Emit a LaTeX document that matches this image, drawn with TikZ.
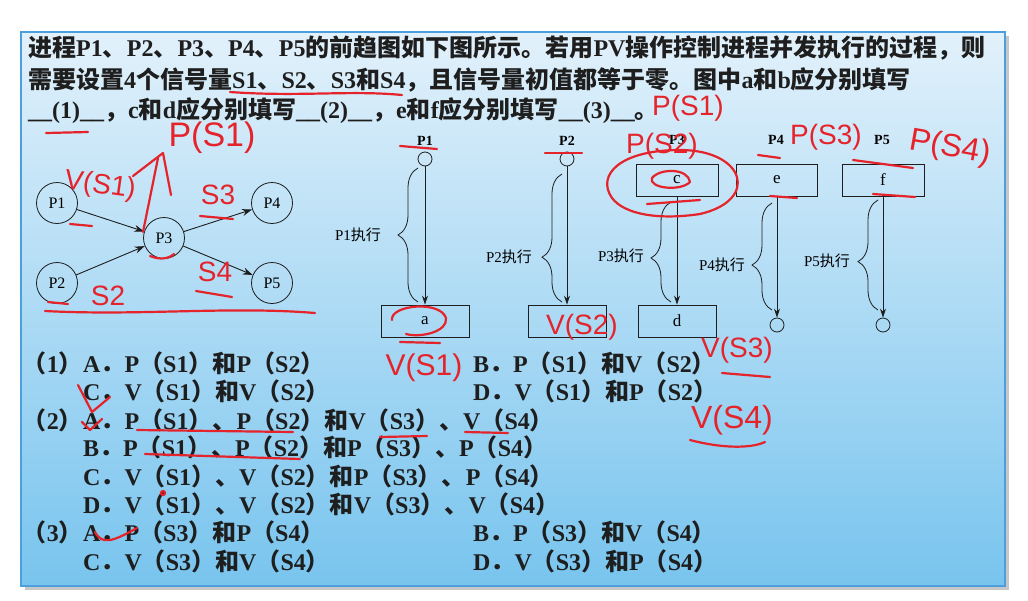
\documentclass[tikz,border=0pt]{standalone}
\usepackage{fontspec}
\setmainfont{Liberation Serif}
\setsansfont{Liberation Sans}
\newfontfamily\cjk{Noto Sans CJK SC}
\usetikzlibrary{arrows.meta, positioning, decorations.pathreplacing}
\definecolor{panetop}{HTML}{E2F1FB}
\definecolor{panebot}{HTML}{78C4EE}
\definecolor{paneline}{HTML}{4A9FDC}
\definecolor{pen}{HTML}{E5232B}
\definecolor{ink}{HTML}{1E1E1E}
% CJK characters switch to the CJK family
\XeTeXinterchartokenstate=1
\newXeTeXintercharclass\cjkcls
\newcount\cjkc
\def\cjkrange#1#2{\cjkc=#1 \loop\ifnum\cjkc<#2 \XeTeXcharclass\cjkc=\cjkcls \advance\cjkc by 1 \repeat}
\cjkrange{"3000}{"3040}
\cjkrange{"4E00}{"A000}
\cjkrange{"FF00}{"FFF0}
\XeTeXinterchartoks 0 \cjkcls = {\cjk}
\XeTeXinterchartoks 4095 \cjkcls = {\cjk}
\XeTeXinterchartoks \cjkcls 0 = {\rmfamily}
\XeTeXinterchartoks \cjkcls 4095 = {\rmfamily}
\begin{document}
\begin{tikzpicture}[x=1pt, y=-1pt,
    >={Stealth[length=10pt, width=7pt]},
    qtext/.style={anchor=west, inner sep=0pt, text=ink, font=\fontsize{24}{28}\selectfont\bfseries},
    opt/.style={anchor=west, inner sep=0pt, text=ink, font=\fontsize{24}{28}\selectfont\bfseries},
    optno/.style={anchor=east, inner sep=0pt, text=ink, font=\fontsize{24}{28}\selectfont\bfseries},
    proc/.style={circle, draw=ink, line width=0.8pt, minimum size=41pt, inner sep=0pt, font=\fontsize{16}{16}\selectfont},
    opbox/.style={draw=ink, line width=0.8pt, minimum width=#1, minimum height=32pt, inner sep=0pt, font=\fontsize{17}{17}\selectfont},
    endpt/.style={circle, draw=ink, line width=0.8pt, minimum size=14pt, inner sep=0pt},
    ptitle/.style={inner sep=0pt, font=\fontsize{14}{14}\selectfont\bfseries},
    blabel/.style={inner sep=0pt, font=\fontsize{15}{15}\selectfont},
    flow/.style={->, line width=0.9pt, draw=ink},
    smallflow/.style={-{Stealth[length=9pt, width=6pt]}, line width=0.8pt, draw=ink},
    brc/.style={decorate, line width=0.8pt, draw=ink, decoration={brace, amplitude=20pt, aspect=#1}},
    pen/.style={draw=pen, line width=2.2pt, line cap=round, line join=round},
    hand/.style={inner sep=0pt, text=pen, font=\sffamily\fontsize{28}{28}\selectfont},
]
    % Slide panel
    \useasboundingbox (0,0) rectangle (1028,600);
    \fill[white] (0,0) rectangle (1028,600);
    \fill[black!22] (25,36) rectangle (1009,590);
    \shade[top color=panetop, bottom color=panebot] (21,32) rectangle (1005,586);
    \draw[paneline, line width=1.2pt] (21,32) rectangle (1005,586);

    % Question
    \node[qtext] (q1) at (28,48) {进程P1、P2、P3、P4、P5的前趋图如下图所示。若用PV操作控制进程并发执行的过程，则};
    \node[qtext] (q2) at (28,80) {需要设置4个信号量S1、S2、S3和S4，且信号量初值都等于零。图中a和b应分别填写};
    \node[qtext] (q3) at (28,111) {\_\_(1)\_\_，c和d应分别填写\_\_(2)\_\_，e和f应分别填写\_\_(3)\_\_。};

    % Precedence graph
    \node[proc] (p1) at (57,203) {P1};
    \node[proc] (p2) at (57,283) {P2};
    \node[proc] (p3) at (164,238) {P3};
    \node[proc] (p4) at (272,203) {P4};
    \node[proc] (p5) at (272,283) {P5};
    \draw[flow] (p1) -- (p3);
    \draw[flow] (p2) -- (p3);
    \draw[flow] (p3) -- (p4);
    \draw[flow] (p3) -- (p5);

    % Process P1
    \node[ptitle] (t1) at (425,141) {P1};
    \node[endpt] (s1) at (425,159) {};
    \node[opbox=88pt] (ba) at (425,321) {a};
    \draw[smallflow] (s1) -- (ba);
    \draw[brc=0.5] (418,302) -- (418,168);
    \node[blabel] (l1) at (358,235) {P1执行};

    % Process P2
    \node[ptitle] (t2) at (567,141) {P2};
    \node[endpt] (s2) at (567,159) {};
    \node[opbox=78pt] (bb) at (567,321) {};
    \draw[smallflow] (s2) -- (bb);
    \draw[brc=0.35] (562,302) -- (562,174);
    \node[blabel] (l2) at (509,257) {P2执行};

    % Process P3
    \node[ptitle] (t3) at (677,140) {P3};
    \node[opbox=82pt] (bc) at (677,180) {c};
    \node[opbox=78pt] (bd) at (677,321) {d};
    \draw[smallflow] (bc) -- (bd);
    \draw[brc=0.44] (671,302) -- (671,202);
    \node[blabel] (l3) at (621,256) {P3执行};

    % Process P4
    \node[ptitle] (t4) at (776,140) {P4};
    \node[opbox=81pt] (be) at (777,180) {e};
    \node[endpt] (e4) at (777,325) {};
    \draw[smallflow] (be) -- (e4);
    \draw[brc=0.42] (772,310) -- (772,203);
    \node[blabel] (l4) at (722,265) {P4执行};

    % Process P5
    \node[ptitle] (t5) at (882,140) {P5};
    \node[opbox=82pt] (bf) at (883,180) {f};
    \node[endpt] (e5) at (883,325) {};
    \draw[smallflow] (bf) -- (e5);
    \draw[brc=0.44] (878,310) -- (878,200);
    \node[blabel] (l5) at (827,261) {P5执行};

    % Options
    \node[optno] (n1) at (83,363) {（1）};
    \node[opt] (o1a) at (83,363) {A．P（S1）和P（S2）};
    \node[opt] (o1b) at (473,363) {B．P（S1）和V（S2）};
    \node[opt] (o1c) at (83,391) {C．V（S1）和V（S2）};
    \node[opt] (o1d) at (473,391) {D．V（S1）和P（S2）};
    \node[optno] (n2) at (83,420) {（2）};
    \node[opt] (o2a) at (83,420) {A．P（S1）、P（S2）和V（S3）、V（S4）};
    \node[opt] (o2b) at (83,447) {B．P（S1）、P（S2）和P（S3）、P（S4）};
    \node[opt] (o2c) at (83,476) {C．V（S1）、V（S2）和P（S3）、P（S4）};
    \node[opt] (o2d) at (83,504) {D．V（S1）、V（S2）和V（S3）、V（S4）};
    \node[optno] (n3) at (83,532) {（3）};
    \node[opt] (o3a) at (83,532) {A．P（S3）和P（S4）};
    \node[opt] (o3b) at (473,532) {B．P（S3）和V（S4）};
    \node[opt] (o3c) at (83,561) {C．V（S3）和V（S4）};
    \node[opt] (o3d) at (473,561) {D．V（S3）和P（S4）};

    % Handwritten notes
    \node[hand, rotate=-8] (hv1) at (100,186) {V(S1)};
    \node[hand, font=\sffamily\fontsize{34}{34}\selectfont] (hp1) at (212,138) {P(S1)};
    \node[hand] (hs3) at (218,195) {S3};
    \node[hand] (hs4) at (215,272) {S4};
    \node[hand] (hs2) at (108,296) {S2};
    \node[hand] (hp1b) at (688,108) {P(S1)};
    \node[hand] (hp2) at (662,146) {P(S2)};
    \node[hand] (hp3) at (826,137) {P(S3)};
    \node[hand, font=\sffamily\fontsize{32}{32}\selectfont, rotate=-10] (hp4) at (950,148) {P(S4)};
    \node[hand, font=\sffamily\fontsize{30}{30}\selectfont] (hva) at (424,368) {V(S1)};
    \node[hand] (hvb) at (582,327) {V(S2)};
    \node[hand] (hvc) at (737,350) {V(S3)};
    \node[hand, font=\sffamily\fontsize{32}{32}\selectfont] (hvd) at (732,420) {V(S4)};

    \draw[pen] (143,232) -- (158,158);
    \draw[pen] (133,176) -- (163,153) -- (171,195);
    \draw[pen] (70,224) -- (92,226);
    \draw[pen] (48,302) -- (68,304);
    \draw[pen] (200,216) -- (233,219);
    \draw[pen] (196,291) -- (232,297);
    \draw[pen] (45,311) .. controls (140,316) and (230,306) .. (315,313);
    \draw[pen] (150,256) .. controls (160,260) and (168,259) .. (174,254);
    \draw[pen] (46,133) -- (88,132);
    \draw[pen] (230,92) .. controls (300,97) and (350,90) .. (402,95);
    \draw[pen] (400,146) -- (437,149);
    \draw[pen] (545,153) -- (582,153);
    \draw[pen] (700,214) .. controls (760,200) and (745,150) .. (680,150)
        .. controls (620,150) and (596,175) .. (612,198)
        .. controls (625,215) and (660,220) .. (700,214);
    \draw[pen] (690,182) .. controls (688,168) and (660,168) .. (652,178)
        .. controls (648,188) and (680,192) .. (690,182);
    \draw[pen] (647,204) -- (700,200);
    \draw[pen] (758,155) -- (780,158);
    \draw[pen] (853,160) -- (913,168);
    \draw[pen] (770,196) -- (797,198);
    \draw[pen] (873,194) -- (915,197);
    \draw[pen] (392,320) .. controls (390,305) and (440,300) .. (446,318)
        .. controls (448,332) and (420,338) .. (406,334);
    \draw[pen] (400,342) -- (440,343);
    \draw[pen] (722,373) -- (770,377);
    \draw[pen] (690,440) .. controls (720,448) and (750,449) .. (765,442);
    \draw[pen] (78,385) -- (92,412) -- (110,397);
    \draw[pen] (82,422) -- (90,430) -- (102,419);
    \draw[pen] (95,532) .. controls (102,545) and (112,542) .. (137,528);
    \draw[pen] (137,430) -- (293,432);
    \draw[pen] (380,437) -- (427,436);
    \draw[pen] (465,432) -- (508,433);
    \draw[pen] (145,454) -- (300,459);
    \fill[pen] (163,493) circle (2pt);
\end{tikzpicture}
\end{document}
